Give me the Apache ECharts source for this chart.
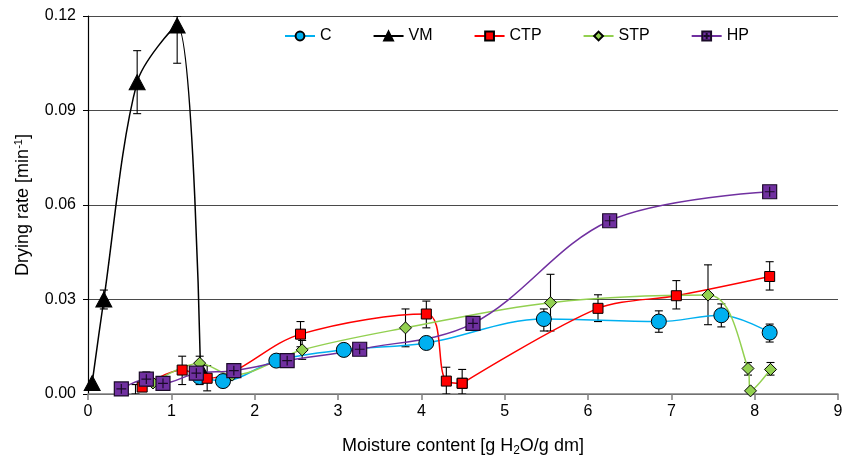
<!DOCTYPE html>
<html>
<head>
<meta charset="utf-8">
<script src="https://cdn.jsdelivr.net/npm/echarts@6/dist/echarts.min.js"></script>
<style>
html,body{margin:0;padding:0;background:#fff;}
#chart{width:851px;height:458px;}
</style>
</head>
<body>
<div id="chart"></div>
<script>
// data: [moisture content, drying rate]
var seriesNames=['C','VM','CTP','STP','HP'];
var dataC=[[1.34,0.0054],[1.62,0.0041],[2.26,0.0106],[3.07,0.0140],[4.06,0.0162],[5.47,0.0238],[6.85,0.0230],[7.60,0.0250],[8.18,0.0195]];
var dataVM=[[0.05,0.0035],[0.19,0.0300],[0.59,0.0990],[1.07,0.1170],[1.35,0.0080]];
// CTP is drawn in two pieces: smooth part, then the straight rise after the drop
var dataCTP=[[0.65,0.0022],[1.13,0.0076],[1.43,0.0050],[2.55,0.0190],[4.06,0.0254],[4.30,0.0041],[4.49,0.0034]];
var dataCTP2=[[4.49,0.0034],[6.12,0.0272],[7.06,0.0312],[8.18,0.0373]];
var dataSTP=[[0.78,0.0035],[1.34,0.0098],[1.73,0.0060],[2.57,0.0140],[3.81,0.0210],[5.55,0.0290],[7.44,0.0314],[7.92,0.0081],[7.95,0.0010],[8.19,0.0078]];
var dataHP=[[0.40,0.0016],[0.70,0.0047],[0.90,0.0034],[1.30,0.0066],[1.75,0.0074],[2.39,0.0106],[3.26,0.0142],[4.62,0.0224],[6.26,0.0550],[8.18,0.0642]];
// error bars: [x, low, high]
var errBars=[
    [0.19,0.027,0.033],[0.59,0.089,0.109],[1.07,0.105,0.120],
    [1.34,0.003,0.008],[4.06,0.0145,0.018],[5.47,0.020,0.027],[6.85,0.0196,0.0264],[7.60,0.0213,0.0286],[8.18,0.0165,0.0222],
    [0.57,0.000,0.003],[1.13,0.003,0.012],[1.43,0.001,0.009],[2.55,0.015,0.023],[4.06,0.021,0.0295],[4.30,0.000,0.0085],[4.49,0.000,0.0078],[6.12,0.023,0.0315],[7.06,0.027,0.036],[8.18,0.033,0.042],
    [1.34,0.006,0.012],[2.57,0.011,0.017],[3.81,0.015,0.027],[5.55,0.020,0.038],[7.44,0.022,0.041],[7.92,0.006,0.010],[8.19,0.006,0.010],
    [0.40,0.000,0.003],[0.70,0.0025,0.007],[4.62,0.021,0.024],[6.26,0.054,0.056],[8.18,0.0625,0.066]
];
var xTicks=[0,1,2,3,4,5,6,7,8,9];
var yTicks=[0,0.03,0.06,0.09,0.12];

var font='"Liberation Sans",Arial,sans-serif';
var hpSymbol='path://M0,0 L10,0 L10,10 L0,10 Z M5,1.5 L5,8.5 M1.5,5 L8.5,5';

var chart=echarts.init(document.getElementById('chart'));
var option={
    animation:false,
    backgroundColor:'#fff',
    textStyle:{fontFamily:font},
    grid:{left:88,right:13,top:16,bottom:64,outerBoundsMode:'none',containLabel:false},
    legend:{
        data:seriesNames,
        top:28,
        left:284,
        padding:0,
        itemWidth:30,
        itemHeight:11,
        itemGap:41,
        textStyle:{fontSize:16,color:'#000',fontFamily:font}
    },
    xAxis:{
        type:'value',
        min:xTicks[0],
        max:xTicks[xTicks.length-1],
        interval:1,
        name:'Moisture content [g H{sub|2}O/g dm]',
        nameLocation:'middle',
        nameGap:42,
        nameTextStyle:{fontSize:18,color:'#000',fontFamily:font,
            rich:{sub:{fontSize:12,color:'#000',fontFamily:font,padding:[9,0,0,0]}}},
        axisLine:{lineStyle:{color:'#808080',width:1.5}},
        axisTick:{show:true,length:6,lineStyle:{color:'#808080',width:1.5}},
        axisLabel:{fontSize:16,color:'#000',margin:10},
        splitLine:{show:false}
    },
    yAxis:{
        type:'value',
        min:yTicks[0],
        max:yTicks[yTicks.length-1],
        interval:0.03,
        name:'Drying rate [min{sup|-1}]',
        nameLocation:'middle',
        nameGap:55,
        nameTextStyle:{fontSize:18,color:'#000',fontFamily:font,
            rich:{sup:{fontSize:11,color:'#000',fontFamily:font,padding:[0,0,9,0]}}},
        axisLine:{show:true,lineStyle:{color:'#000',width:1.2}},
        axisTick:{show:true,length:5,lineStyle:{color:'#000'}},
        axisLabel:{fontSize:16,color:'#000',margin:12,formatter:function(v){return v.toFixed(2);}},
        splitLine:{show:true,lineStyle:{color:'#4a4a4a',width:1.2}}
    },
    series:[
        {
            name:'err',
            type:'custom',
            data:errBars,
            z:2,
            silent:true,
            renderItem:function(params,api){
                var x=api.value(0);
                var lo=api.coord([x,api.value(1)]);
                var hi=api.coord([x,api.value(2)]);
                var w=4;
                var st={stroke:'#000',lineWidth:1.1};
                return {type:'group',children:[
                    {type:'line',shape:{x1:lo[0],y1:lo[1],x2:hi[0],y2:hi[1]},style:st},
                    {type:'line',shape:{x1:lo[0]-w,y1:lo[1],x2:lo[0]+w,y2:lo[1]},style:st},
                    {type:'line',shape:{x1:hi[0]-w,y1:hi[1],x2:hi[0]+w,y2:hi[1]},style:st}
                ]};
            },
            clip:true
        },
        {
            name:'C',type:'line',data:dataC,smooth:0.35,
            symbol:'circle',symbolSize:15,z:3,
            lineStyle:{color:'#00b0f0',width:1.5},
            itemStyle:{color:'#00b0f0',borderColor:'#000',borderWidth:1}
        },
        {
            name:'VM',type:'line',data:dataVM,smooth:0.3,
            symbol:'triangle',symbolSize:[16,15],z:3,
            lineStyle:{color:'#000',width:1.5},
            itemStyle:{color:'#000',borderColor:'#000',borderWidth:1}
        },
        {
            name:'CTP',type:'line',data:dataCTP,smooth:0.35,
            symbol:'rect',symbolSize:10,z:3,
            lineStyle:{color:'#ff0000',width:1.5},
            itemStyle:{color:'#ff0000',borderColor:'#000',borderWidth:1}
        },
        {
            name:'CTP',type:'line',data:dataCTP2,smooth:0.3,
            symbol:'rect',symbolSize:10,z:3,
            lineStyle:{color:'#ff0000',width:1.5},
            itemStyle:{color:'#ff0000',borderColor:'#000',borderWidth:1}
        },
        {
            name:'STP',type:'line',data:dataSTP,smooth:0.35,
            symbol:'diamond',symbolSize:12,z:3,
            lineStyle:{color:'#92d050',width:1.5},
            itemStyle:{color:'#92d050',borderColor:'#000',borderWidth:1}
        },
        {
            name:'HP',type:'line',data:dataHP,smooth:0.35,
            symbol:hpSymbol,symbolSize:14,z:3,
            lineStyle:{color:'#7030a0',width:1.5},
            itemStyle:{color:'#7030a0',borderColor:'#1a0a28',borderWidth:1.2}
        }
    ]
};
chart.setOption(option);
</script>
</body>
</html>
